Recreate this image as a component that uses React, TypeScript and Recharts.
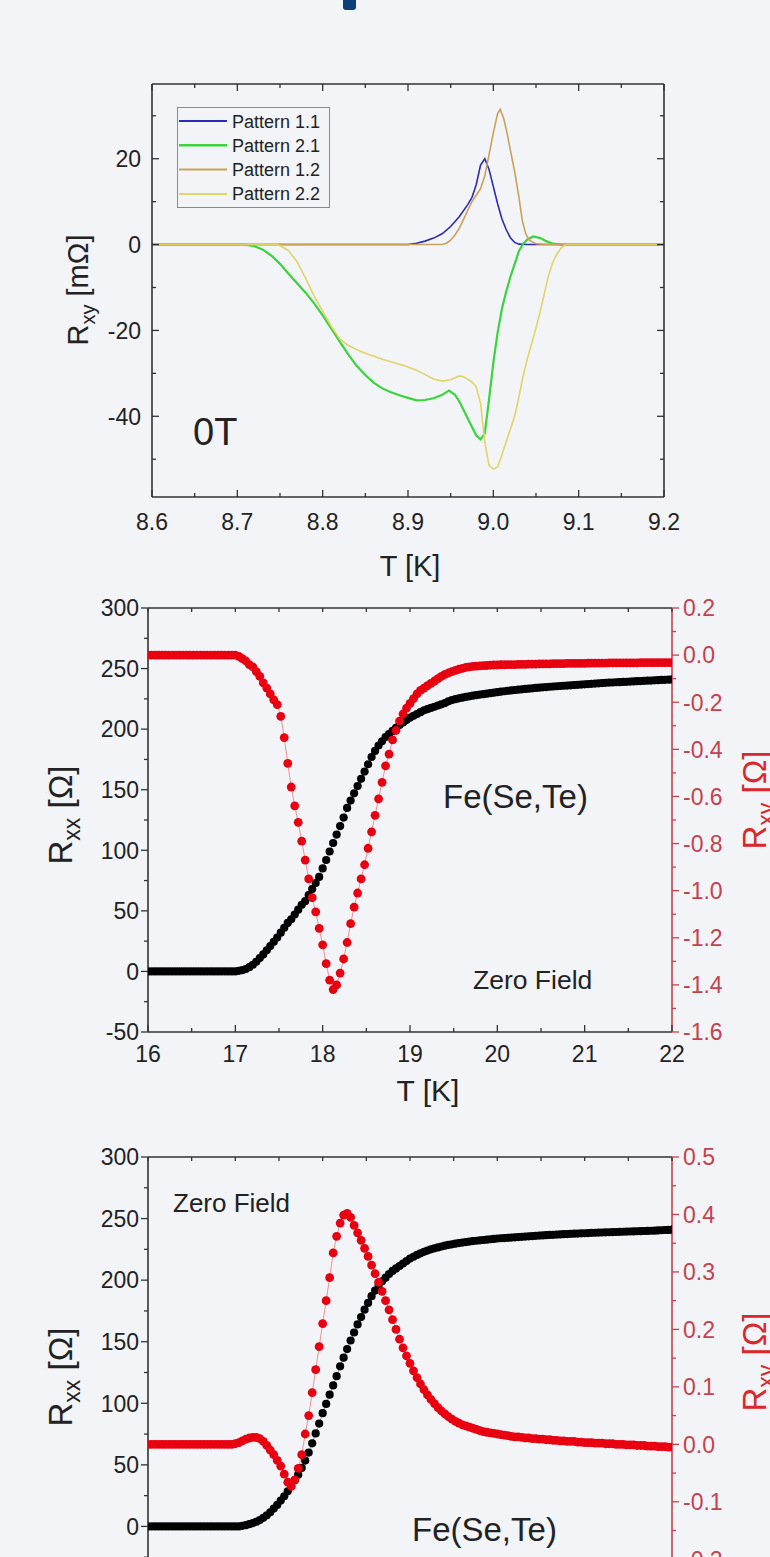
import React from 'react';
import { ComposedChart, LineChart, Line, XAxis, YAxis } from 'recharts';

const FONT = '"Liberation Sans", Arial, sans-serif';
const BG = '#f2f4f8';
const FRAME = '#333333';
const RED_AXIS = '#c4424c';
const RED_TITLE = '#d8282c';

// ---------- panel 1: R_xy of four patterns near 9 K ----------
const pattern11: [number, number][] = [
  [8.6, 0], [8.9, 0], [8.91, 0.3], [8.92, 0.8], [8.93, 1.5], [8.94, 2.5], [8.95, 4.2], [8.96, 6.5],
  [8.97, 9.3], [8.975, 11], [8.98, 14], [8.985, 18.5], [8.99, 20], [8.995, 17.5], [9.0, 13.5],
  [9.005, 9.5], [9.01, 6], [9.015, 3.5], [9.02, 1.6], [9.025, 0.5], [9.03, 0.1], [9.04, 0], [9.2, 0],
];
const pattern21: [number, number][] = [
  [8.6, 0], [8.71, 0], [8.72, -0.4], [8.73, -1.2], [8.74, -2.6], [8.75, -4.5], [8.76, -6.8], [8.77, -9],
  [8.78, -11.2], [8.79, -13.7], [8.8, -16.5], [8.81, -19.5], [8.82, -22.6], [8.83, -25.6], [8.84, -28.3],
  [8.85, -30.4], [8.86, -32.2], [8.87, -33.5], [8.88, -34.4], [8.89, -35.1], [8.9, -35.7], [8.91, -36.3],
  [8.92, -36.2], [8.93, -35.8], [8.94, -35], [8.948, -34], [8.955, -35], [8.96, -36.5], [8.965, -38.5],
  [8.97, -40.5], [8.975, -42.5], [8.98, -44.5], [8.985, -45.4], [8.99, -44], [8.995, -36], [9.0, -27.5],
  [9.005, -20.5], [9.01, -15], [9.015, -11], [9.02, -7.5], [9.025, -4.5], [9.03, -1.5], [9.035, 0.2],
  [9.04, 1.2], [9.047, 1.9], [9.055, 1.5], [9.062, 0.8], [9.07, 0.2], [9.08, 0], [9.2, 0],
];
const pattern12: [number, number][] = [
  [8.6, 0], [8.94, 0], [8.945, 0.3], [8.95, 1], [8.955, 2.2], [8.96, 3.8], [8.965, 5.8], [8.97, 8],
  [8.975, 10], [8.98, 11.5], [8.985, 13], [8.99, 16], [8.995, 21], [9.0, 26], [9.005, 30.5],
  [9.008, 31.5], [9.012, 29.5], [9.016, 26], [9.02, 22], [9.025, 17], [9.03, 11], [9.034, 5.5],
  [9.038, 2.5], [9.042, 1], [9.05, 0.2], [9.06, 0], [9.2, 0],
];
const pattern22: [number, number][] = [
  [8.6, 0], [8.745, 0], [8.75, -0.3], [8.755, -0.8], [8.76, -1.4], [8.77, -4], [8.78, -7.8], [8.79, -12],
  [8.8, -15.5], [8.81, -19], [8.82, -22], [8.83, -23.5], [8.84, -24.5], [8.85, -25.3], [8.86, -26],
  [8.87, -26.7], [8.88, -27.3], [8.89, -27.9], [8.9, -28.5], [8.91, -29.3], [8.92, -30.3], [8.93, -31.3],
  [8.94, -31.8], [8.95, -31.5], [8.96, -30.6], [8.965, -30.8], [8.97, -31.4], [8.975, -32], [8.98, -33.2],
  [8.985, -37], [8.99, -46], [8.995, -51.5], [9.0, -52.3], [9.005, -51.8], [9.01, -49], [9.015, -46],
  [9.02, -43], [9.025, -40], [9.03, -35.5], [9.035, -30.5], [9.04, -26.5], [9.045, -23], [9.05, -19.5],
  [9.055, -15.5], [9.06, -11.2], [9.065, -7], [9.07, -4], [9.075, -2], [9.08, -0.7], [9.085, 0], [9.2, 0],
];
const patternNames = ['Pattern 1.1', 'Pattern 2.1', 'Pattern 1.2', 'Pattern 2.2'];
const patternColors = ['#2b2bb4', '#3cd43c', '#c9a25a', '#e2d466'];
const patternWidths = [1.6, 2.2, 1.6, 1.6];

const tTicks1 = [8.6, 8.65, 8.7, 8.75, 8.8, 8.85, 8.9, 8.95, 9.0, 9.05, 9.1, 9.15, 9.2];
const tMajor1 = [8.6, 8.7, 8.8, 8.9, 9.0, 9.1, 9.2];
const rTicks1 = [-50, -40, -30, -20, -10, 0, 10, 20, 30];
const rMajor1 = [-40, -20, 0, 20];

// ---------- panels 2 and 3: Fe(Se,Te) transport ----------
const temps = [
  16, 16.04, 16.08, 16.12, 16.16, 16.2, 16.24, 16.28, 16.32, 16.36, 16.4, 16.44, 16.48, 16.52, 16.56, 16.6, 16.64, 16.68, 16.72, 16.76, 16.8, 16.84, 16.88, 16.92, 16.96,
  17, 17.04, 17.08, 17.12, 17.16, 17.2, 17.24, 17.28, 17.32, 17.36, 17.4, 17.44, 17.48, 17.52, 17.56, 17.6, 17.64, 17.68, 17.72, 17.76, 17.8, 17.84, 17.88, 17.92, 17.96,
  18, 18.04, 18.08, 18.12, 18.16, 18.2, 18.24, 18.28, 18.32, 18.36, 18.4, 18.44, 18.48, 18.52, 18.56, 18.6, 18.64, 18.68, 18.72, 18.76, 18.8, 18.84, 18.88, 18.92, 18.96,
  19, 19.04, 19.08, 19.12, 19.16, 19.2, 19.24, 19.28, 19.32, 19.36, 19.4, 19.44, 19.48, 19.52, 19.56, 19.6, 19.64, 19.68, 19.72, 19.76, 19.8, 19.84, 19.88, 19.92, 19.96,
  20, 20.04, 20.08, 20.12, 20.16, 20.2, 20.24, 20.28, 20.32, 20.36, 20.4, 20.44, 20.48, 20.52, 20.56, 20.6, 20.64, 20.68, 20.72, 20.76, 20.8, 20.84, 20.88, 20.92, 20.96,
  21, 21.04, 21.08, 21.12, 21.16, 21.2, 21.24, 21.28, 21.32, 21.36, 21.4, 21.44, 21.48, 21.52, 21.56, 21.6, 21.64, 21.68, 21.72, 21.76, 21.8, 21.84, 21.88, 21.92, 21.96,
  22,
];

const rxxMid = [
  0, 0, 0, 0, 0, 0, 0, 0, 0, 0, 0, 0, 0, 0, 0, 0, 0, 0, 0, 0, 0, 0, 0, 0, 0,
  0, 0.5, 1, 2, 3.5, 5.5, 8, 11, 14, 17.5, 21, 24.5, 28, 32, 36, 40, 43, 47, 51, 55, 58, 63, 68, 73, 78,
  85, 92, 99, 106, 113, 120, 127, 135, 141, 147, 153, 159, 165, 171, 177, 182, 186.5, 190, 193.5, 196, 198.5, 201, 203.5, 205.5, 207.5,
  209.5, 211, 212.5, 214, 215.5, 216.5, 217.5, 218.5, 219.5, 220.5, 221.5, 223, 224, 224.7, 225.4, 226, 226.6, 227.1, 227.6, 228, 228.5, 228.9, 229.3, 229.7, 230.1,
  230.5, 230.9, 231.3, 231.7, 232, 232.3, 232.6, 232.9, 233.2, 233.4, 233.7, 234, 234.2, 234.5, 234.7, 235, 235.2, 235.4, 235.6, 235.8, 236, 236.2, 236.4, 236.6, 236.8,
  237, 237.2, 237.4, 237.6, 237.8, 238, 238.2, 238.4, 238.5, 238.7, 238.8, 239, 239.1, 239.3, 239.4, 239.6, 239.7, 239.9, 240, 240.1, 240.3, 240.4, 240.6, 240.7, 240.9,
  241,
];
const rxyMid = [
  0, 0, 0, 0, 0, 0, 0, 0, 0, 0, 0, 0, 0, 0, 0, 0, 0, 0, 0, 0, 0, 0, 0, 0, 0,
  0, -0.005, -0.015, -0.025, -0.04, -0.05, -0.07, -0.09, -0.118, -0.14, -0.165, -0.19, -0.21, -0.26, -0.35, -0.46, -0.56, -0.64, -0.71, -0.79, -0.87, -0.95, -1.03, -1.09, -1.16,
  -1.23, -1.31, -1.38, -1.42, -1.4, -1.35, -1.29, -1.22, -1.14, -1.07, -1.01, -0.95, -0.89, -0.82, -0.75, -0.68, -0.61, -0.54, -0.47, -0.42, -0.36, -0.32, -0.28, -0.25, -0.225,
  -0.205, -0.185, -0.165, -0.15, -0.14, -0.13, -0.12, -0.11, -0.1, -0.09, -0.082, -0.076, -0.07, -0.065, -0.06, -0.056, -0.052, -0.05, -0.048, -0.047, -0.046, -0.045, -0.044, -0.043, -0.042,
  -0.042, -0.041, -0.041, -0.04, -0.04, -0.04, -0.039, -0.039, -0.039, -0.038, -0.038, -0.038, -0.037, -0.037, -0.037, -0.037, -0.036, -0.036, -0.036, -0.036, -0.035, -0.035, -0.035, -0.035, -0.035,
  -0.035, -0.034, -0.034, -0.034, -0.034, -0.034, -0.034, -0.033, -0.033, -0.033, -0.033, -0.033, -0.033, -0.033, -0.033, -0.033, -0.032, -0.032, -0.032, -0.032, -0.032, -0.032, -0.032, -0.032, -0.032,
  -0.032,
];

const rxxLow = [
  0, 0, 0, 0, 0, 0, 0, 0, 0, 0, 0, 0, 0, 0, 0, 0, 0, 0, 0, 0, 0, 0, 0, 0, 0,
  0, 0, 0.5, 1, 1.8, 2.7, 3.8, 5.2, 7, 9, 11.5, 14.5, 17.5, 21, 24.5, 28.5, 33, 37.5, 42, 47.5, 53.5, 60, 67.5, 75.5, 83.5,
  92, 99.5, 107, 114.5, 122, 130, 137, 144, 151, 157.5, 164, 170, 176, 181.5, 187, 191.5, 195.5, 199, 202, 205, 207.5, 209.5, 211.5, 213.5, 215.5,
  217.5, 219, 220.5, 221.8, 223, 224, 225, 225.8, 226.6, 227.3, 228, 228.6, 229.1, 229.6, 230.1, 230.5, 230.9, 231.3, 231.7, 232, 232.3, 232.6, 232.9, 233.2, 233.5,
  233.8, 234, 234.2, 234.4, 234.6, 234.8, 235, 235.2, 235.4, 235.6, 235.8, 236, 236.2, 236.3, 236.5, 236.7, 236.8, 237, 237.1, 237.3, 237.4, 237.6, 237.7, 237.8, 238,
  238.1, 238.2, 238.4, 238.5, 238.6, 238.7, 238.8, 238.9, 239, 239.1, 239.2, 239.3, 239.4, 239.5, 239.6, 239.7, 239.8, 239.9, 240, 240.1, 240.2, 240.4, 240.5, 240.7, 240.8,
  241,
];
const rxyLow = [
  0, 0, 0, 0, 0, 0, 0, 0, 0, 0, 0, 0, 0, 0, 0, 0, 0, 0, 0, 0, 0, 0, 0, 0, 0,
  0.001, 0.003, 0.006, 0.009, 0.011, 0.012, 0.012, 0.01, 0.005, -0.002, -0.01, -0.018, -0.028, -0.038, -0.052, -0.066, -0.073, -0.062, -0.042, -0.018, 0.018, 0.05, 0.09, 0.13, 0.17,
  0.21, 0.25, 0.29, 0.333, 0.362, 0.385, 0.399, 0.402, 0.395, 0.381, 0.368, 0.355, 0.341, 0.327, 0.312, 0.297, 0.282, 0.266, 0.25, 0.234, 0.217, 0.2, 0.183, 0.168, 0.154,
  0.141, 0.128, 0.116, 0.105, 0.095, 0.086, 0.078, 0.071, 0.064, 0.058, 0.053, 0.048, 0.044, 0.04, 0.037, 0.034, 0.032, 0.03, 0.028, 0.026, 0.024, 0.022, 0.021, 0.02, 0.019,
  0.018, 0.017, 0.016, 0.015, 0.014, 0.013, 0.013, 0.012, 0.011, 0.011, 0.01, 0.01, 0.009, 0.009, 0.008, 0.008, 0.007, 0.007, 0.006, 0.006, 0.005, 0.005, 0.005, 0.004, 0.004,
  0.003, 0.003, 0.003, 0.002, 0.002, 0.002, 0.001, 0.001, 0.001, 0, 0, 0, -0.001, -0.001, -0.001, -0.002, -0.002, -0.002, -0.003, -0.003, -0.003, -0.004, -0.004, -0.004, -0.005,
  -0.005,
];

const tTicks = [16, 16.5, 17, 17.5, 18, 18.5, 19, 19.5, 20, 20.5, 21, 21.5, 22];
const tMajor = [16, 17, 18, 19, 20, 21, 22];
const rxxTicks = [-50, -25, 0, 25, 50, 75, 100, 125, 150, 175, 200, 225, 250, 275, 300];
const rxxMajor = [-50, 0, 50, 100, 150, 200, 250, 300];
const rxxMajorCut = [0, 50, 100, 150, 200, 250, 300];
const rxyMidTicks = [-1.6, -1.5, -1.4, -1.3, -1.2, -1.1, -1.0, -0.9, -0.8, -0.7, -0.6, -0.5, -0.4, -0.3, -0.2, -0.1, 0, 0.1, 0.2];
const rxyMidMajor = [-1.6, -1.4, -1.2, -1.0, -0.8, -0.6, -0.4, -0.2, 0, 0.2];
const rxyLowTicks = [-0.25, -0.2, -0.15, -0.1, -0.05, 0, 0.05, 0.1, 0.15, 0.2, 0.25, 0.3, 0.35, 0.4, 0.45, 0.5];
const rxyLowMajor = [-0.2, -0.1, 0, 0.1, 0.2, 0.3, 0.4, 0.5];

// ---------- tick drawing ----------
type Side = 'left' | 'right' | 'top' | 'bottom';
interface TickStyle {
  side: Side;
  major: number[];
  inward: boolean;
  majorLen: number;
  minorLen: number;
  color: string;
  label?: { size: number; gap: number; digits: number; color: string };
}

const makeTick = (s: TickStyle) => (props: any) => {
  const { x, y, payload } = props;
  const v = payload.value as number;
  const isMajor = s.major.some((m) => Math.abs(m - v) < 1e-6);
  const len = isMajor ? s.majorLen : s.minorLen;
  const d = s.inward ? 1 : -1;
  const dx = s.side === 'left' ? d * len : s.side === 'right' ? -d * len : 0;
  const dy = s.side === 'top' ? d * len : s.side === 'bottom' ? -d * len : 0;
  let text: React.ReactNode = null;
  if (s.label && isMajor) {
    const str = v.toFixed(s.label.digits);
    const c = { fill: s.label.color, fontSize: s.label.size, fontFamily: FONT };
    if (s.side === 'left')
      text = <text x={x - s.label.gap} y={y} dy="0.36em" textAnchor="end" {...c}>{str}</text>;
    else if (s.side === 'right')
      text = <text x={x + s.label.gap} y={y} dy="0.36em" textAnchor="start" {...c}>{str}</text>;
    else if (s.side === 'bottom')
      text = <text x={x} y={y + s.label.gap} textAnchor="middle" {...c}>{str}</text>;
  }
  return (
    <g>
      <line x1={x} y1={y} x2={x + dx} y2={y + dy} stroke={s.color} strokeWidth={1.3} />
      {text}
    </g>
  );
};

const axisBase = {
  type: 'number' as const,
  interval: 0 as const,
  tickSize: 0,
  tickMargin: 0,
  tickLine: false,
  allowDataOverflow: true,
};

function PatternPanel() {
  const series = [pattern11, pattern21, pattern12, pattern22].map((p) => p.map(([t, r]) => ({ t, r })));
  const frame = { stroke: FRAME, strokeWidth: 1.6 };
  return (
    <div style={{ position: 'absolute', left: 0, top: 0 }}>
      <LineChart width={770} height={600} margin={{ top: 74, right: 96, bottom: 73, left: 92 }}>
        <XAxis {...axisBase} xAxisId="b" dataKey="t" domain={[8.6, 9.2]} ticks={tTicks1} height={30} axisLine={frame}
          tick={makeTick({ side: 'bottom', major: tMajor1, inward: true, majorLen: 7, minorLen: 4, color: FRAME, label: { size: 23, gap: 33, digits: 1, color: '#222' } })} />
        <XAxis {...axisBase} xAxisId="t" orientation="top" dataKey="t" domain={[8.6, 9.2]} ticks={tTicks1} height={10} axisLine={frame}
          tick={makeTick({ side: 'top', major: tMajor1, inward: true, majorLen: 7, minorLen: 4, color: FRAME })} />
        <YAxis {...axisBase} yAxisId="l" domain={[-58.8, 37.4]} ticks={rTicks1} width={60} axisLine={frame}
          tick={makeTick({ side: 'left', major: rMajor1, inward: true, majorLen: 7, minorLen: 4, color: FRAME, label: { size: 23, gap: 11, digits: 0, color: '#222' } })} />
        <YAxis {...axisBase} yAxisId="r" orientation="right" domain={[-58.8, 37.4]} ticks={rTicks1} width={10} axisLine={frame}
          tick={makeTick({ side: 'right', major: rMajor1, inward: true, majorLen: 7, minorLen: 4, color: FRAME })} />
        {series.map((d, i) => (
          <Line key={patternNames[i]} data={d} dataKey="r" name={patternNames[i]}
            xAxisId={i < 2 ? 'b' : 't'} yAxisId={i < 2 ? 'l' : 'r'}
            stroke={patternColors[i]} strokeWidth={patternWidths[i]} dot={false} activeDot={false}
            type="linear" isAnimationActive={false} />
        ))}
      </LineChart>
    </div>
  );
}

interface DotPanelProps {
  top: number;
  marginTop: number;
  marginBottom: number;
  rxx: number[];
  rxy: number[];
  rxxMajorTicks: number[];
  rxyDomain: [number, number];
  rxyTicks: number[];
  rxyMajor: number[];
  bottomLabels: boolean;
}

function DotPanel(p: DotPanelProps) {
  const rows = temps.map((t, i) => ({ t, rxx: p.rxx[i], rxy: p.rxy[i] }));
  const frame = { stroke: FRAME, strokeWidth: 1.6 };
  const bottomLabel = p.bottomLabels ? { size: 23, gap: 30, digits: 0, color: '#222' } : undefined;
  return (
    <div style={{ position: 'absolute', left: 0, top: p.top }}>
      <ComposedChart width={770} height={520} data={rows} margin={{ top: p.marginTop, right: 38, bottom: p.marginBottom, left: 88 }}>
        <XAxis {...axisBase} xAxisId="b" dataKey="t" domain={[16, 22]} ticks={tTicks} height={30} axisLine={frame}
          tick={makeTick({ side: 'bottom', major: tMajor, inward: true, majorLen: 7, minorLen: 4, color: FRAME, label: bottomLabel })} />
        <XAxis {...axisBase} xAxisId="t" orientation="top" dataKey="t" domain={[16, 22]} ticks={tTicks} height={10} axisLine={frame}
          tick={makeTick({ side: 'top', major: [], inward: true, majorLen: 4, minorLen: 4, color: FRAME })} />
        <YAxis {...axisBase} yAxisId="l" domain={[-50, 300]} ticks={rxxTicks} width={60} axisLine={frame}
          tick={makeTick({ side: 'left', major: p.rxxMajorTicks, inward: false, majorLen: 7, minorLen: 4, color: FRAME, label: { size: 23, gap: 9, digits: 0, color: '#222' } })} />
        <YAxis {...axisBase} yAxisId="r" orientation="right" domain={p.rxyDomain} ticks={p.rxyTicks} width={60}
          axisLine={{ stroke: RED_AXIS, strokeWidth: 1.6 }}
          tick={makeTick({ side: 'right', major: p.rxyMajor, inward: false, majorLen: 7, minorLen: 4, color: RED_AXIS, label: { size: 23, gap: 11, digits: 1, color: RED_AXIS } })} />
        <Line xAxisId="b" yAxisId="l" dataKey="rxx" type="linear" stroke="#555" strokeWidth={0.6}
          dot={{ r: 4.1, fill: '#000', stroke: 'none' }} activeDot={false} isAnimationActive={false} />
        <Line xAxisId="t" yAxisId="r" dataKey="rxy" type="linear" stroke="#e77" strokeWidth={0.8}
          dot={{ r: 4.4, fill: '#e80010', stroke: 'none' }} activeDot={false} isAnimationActive={false} />
      </ComposedChart>
    </div>
  );
}

function Overlay() {
  const txt = { fontFamily: FONT, fill: '#222' };
  const rot = (x: number, y: number) => `rotate(-90 ${x} ${y})`;
  return (
    <svg width={770} height={1557} style={{ position: 'absolute', left: 0, top: 0, pointerEvents: 'none' }}>
      {/* panel 1 */}
      <rect x={177.5} y={107.5} width={152} height={100} fill={BG} stroke="#8a8a8a" strokeWidth={1} />
      {patternNames.map((n, i) => (
        <g key={n}>
          <line x1={179} x2={227} y1={121 + i * 24.3} y2={121 + i * 24.3} stroke={patternColors[i]} strokeWidth={patternWidths[i] + 0.4} />
          <text x={232} y={127.5 + i * 24.3} fontSize={18} {...txt}>{n}</text>
        </g>
      ))}
      <text x={193} y={445} fontSize={38} {...txt}>0T</text>
      <text x={410} y={576} fontSize={29} textAnchor="middle" {...txt}>T [K]</text>
      <text x={88} y={290} fontSize={29} textAnchor="middle" transform={rot(88, 290)} {...txt}>
        R<tspan fontSize={20} dy={7}>xy</tspan><tspan dy={-7}> [mΩ]</tspan>
      </text>

      {/* panel 2 */}
      <text x={443} y={808} fontSize={33} {...txt}>Fe(Se,Te)</text>
      <text x={473} y={989} fontSize={26.5} {...txt}>Zero Field</text>
      <text x={428} y={1101} fontSize={30} textAnchor="middle" {...txt}>T [K]</text>
      <text x={72} y={815} fontSize={33} textAnchor="middle" transform={rot(72, 815)} {...txt}>
        R<tspan fontSize={23} dy={8}>xx</tspan><tspan dy={-8}> [Ω]</tspan>
      </text>
      <text x={766} y={800} fontSize={33} textAnchor="middle" transform={rot(766, 800)} fontFamily={FONT} fill={RED_TITLE}>
        R<tspan fontSize={23} dy={8}>xy</tspan><tspan dy={-8}> [Ω]</tspan>
      </text>

      {/* panel 3 */}
      <text x={173} y={1212} fontSize={26} {...txt}>Zero Field</text>
      <text x={412} y={1541} fontSize={33} {...txt}>Fe(Se,Te)</text>
      <text x={72} y={1377} fontSize={33} textAnchor="middle" transform={rot(72, 1377)} {...txt}>
        R<tspan fontSize={23} dy={8}>xx</tspan><tspan dy={-8}> [Ω]</tspan>
      </text>
      <text x={766} y={1362} fontSize={33} textAnchor="middle" transform={rot(766, 1362)} fontFamily={FONT} fill={RED_TITLE}>
        R<tspan fontSize={23} dy={8}>xy</tspan><tspan dy={-8}> [Ω]</tspan>
      </text>
    </svg>
  );
}

export default function App() {
  return (
    <div style={{ position: 'absolute', left: 0, top: 0, width: 770, height: 1557, background: BG, overflow: 'hidden', fontFamily: FONT }}>
      <div style={{ position: 'absolute', left: 343, top: 0, width: 13, height: 10, background: '#0c3e78', borderRadius: '0 0 3px 3px' }} />
      <PatternPanel />
      <DotPanel top={560} marginTop={38} marginBottom={18} rxx={rxxMid} rxy={rxyMid} rxxMajorTicks={rxxMajor}
        rxyDomain={[-1.6, 0.2]} rxyTicks={rxyMidTicks} rxyMajor={rxyMidMajor} bottomLabels={true} />
      <DotPanel top={1110} marginTop={37} marginBottom={12} rxx={rxxLow} rxy={rxyLow} rxxMajorTicks={rxxMajorCut}
        rxyDomain={[-0.25, 0.5]} rxyTicks={rxyLowTicks} rxyMajor={rxyLowMajor} bottomLabels={false} />
      <Overlay />
    </div>
  );
}
